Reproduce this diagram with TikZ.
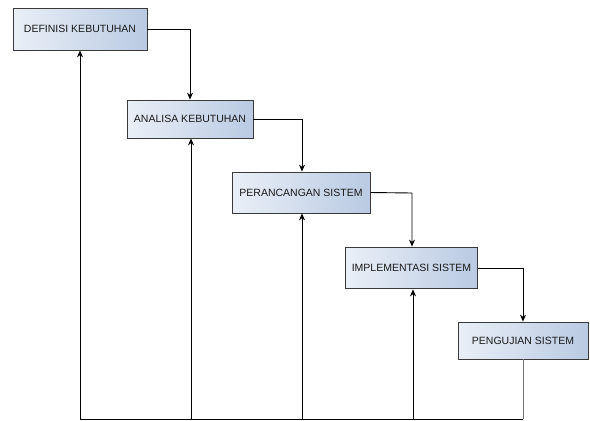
\documentclass[tikz,border=0pt]{standalone}
\usepackage{fontspec}
\setmainfont{Liberation Sans}
\usetikzlibrary{arrows.meta}
\definecolor{boxL}{HTML}{EAEFF7}
\definecolor{boxR}{HTML}{B9CAE2}
\definecolor{boxD}{HTML}{3A3A3A}
\begin{document}
\begin{tikzpicture}[x=1pt,y=-1pt,
  stage/.style={draw=boxD,line width=0.8pt,left color=boxL,right color=boxR,
    inner sep=0pt,font=\fontsize{10.5}{12}\selectfont,text=black!90},
  link/.style={draw=black,line width=0.9pt},
  tip/.style={-{Stealth[length=7pt,width=6pt]}}]
\useasboundingbox (0,0) rectangle (590,421);
\node[stage,minimum width=134pt,minimum height=42pt] (b1) at (80,29) {DEFINISI KEBUTUHAN};
\node[stage,minimum width=126pt,minimum height=38pt] (b2) at (190,119) {ANALISA KEBUTUHAN};
\node[stage,minimum width=138pt,minimum height=41pt] (b3) at (301,192.5) {PERANCANGAN SISTEM};
\node[stage,line width=1.8pt,minimum width=132pt,minimum height=41pt] (b4) at (411.5,268) {IMPLEMENTASI SISTEM};
\node[stage,minimum width=130pt,minimum height=37pt] (b5) at (523,340.5) {PENGUJIAN SISTEM};
\coordinate (c1) at (190,29);
\coordinate (c2) at (302,119);
\coordinate (c3) at (412,193);
\coordinate (c4) at (523,268);
\coordinate (bl) at (80,419);
\coordinate (br) at (523,419);
\coordinate (u2) at (191,419);
\coordinate (u3) at (302,419);
\coordinate (u4) at (413,419);
\draw[link,tip] (b1.east) -- (c1) -- (b2.north -| c1);
\draw[link,tip] (b2.east) -- (c2) -- (b3.north -| c2);
\draw[link,tip] (b3.east) -- (c3) -- (b4.north -| c3);
\draw[link,tip] (b4.east) -- (c4) -- (b5.north -| c4);
\draw[link,draw=black!55] (b5.south) -- (br);
\draw[link,tip] (br) -- (bl) -- (b1.south);
\draw[link,tip] (u2) -- (b2.south -| u2);
\draw[link,tip] (u3) -- (b3.south -| u3);
\draw[link,tip] (u4) -- (b4.south -| u4);
\end{tikzpicture}
\end{document}
